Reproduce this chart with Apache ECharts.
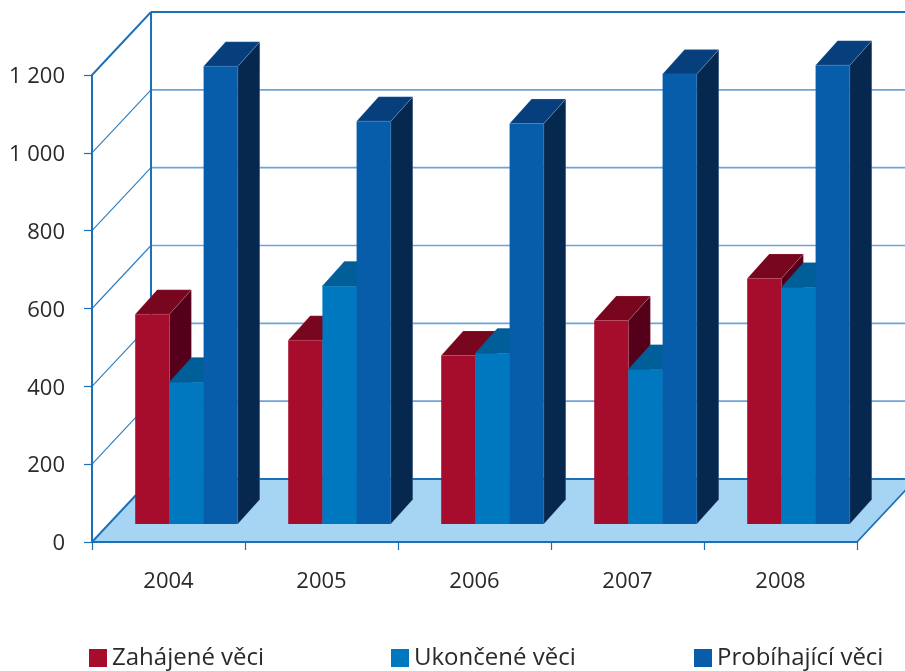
<!DOCTYPE html>
<html><head><meta charset="utf-8">
<style>html,body{margin:0;padding:0;background:#fff}#c{width:905px;height:671px}</style>
<script src="https://cdn.jsdelivr.net/npm/echarts@6/dist/echarts.min.js"></script>
</head><body><div id="c"></div>
<script>
const categories = ['2004','2005','2006','2007','2008'];
const zahajene = [539,472,433,523,631];
const ukoncene = [364,611,439,397,608];
const probihajici = [1176,1035,1029,1156,1179];
const yTicks = [0,200,400,600,800,1000,1200];
const seriesNames = ['Zahájené věci','Ukončené věci','Probíhající věci'];

const FONT = '"Open Sans", sans-serif';
const TEXT = '#2b2a29';
const AXIS = '#1b70b8';
const GRID = '#6fa3d8';
const SLANT = '#2a7cc0';
const FLOOR = '#a6d4f3';
const WALL_DX = 59, WALL_DY = 63;      // depth of the whole box
const BASE_DX = 18, BASE_DY = 18;      // how far bars stand inside the floor
const BAR_DX = 22, BAR_DY = 24.5;      // depth of each bar
const BAR_SHARE = 0.2235;              // bar width / category band

const palettes = [
  {front:'#a60c2c', top:'#78061f', side:'#54001a', edge:'rgba(255,190,200,.25)'},
  {front:'#0078c0', top:'#005e98', side:'#004d7e', edge:'rgba(0,94,152,1)'},
  {front:'#085dab', top:'#063f7c', side:'#06284f', edge:'rgba(190,215,255,.3)'}
];

function barRenderer(index){
  const p = palettes[index];
  return function(params, api){
    const band = api.size([1,0])[0];
    const w = band*BAR_SHARE;
    const c = api.coord([api.value(0), api.value(1)]);
    const l = c[0] + BASE_DX + (index-1.5)*w;
    const r = l + w;
    const t = c[1] - BASE_DY;
    const b = api.coord([api.value(0), 0])[1] - BASE_DY;
    const poly = (pts, fill, z2, stroke) => ({type:'polygon', z2, silent:true,
      shape:{points:pts}, style:{fill, stroke:stroke||fill, lineWidth:stroke?0.7:0}});
    return {type:'group', children:[
      poly([[r,t],[r+BAR_DX,t-BAR_DY],[r+BAR_DX,b-BAR_DY],[r,b]], p.side, 1, p.edge),
      poly([[l,t],[l+BAR_DX,t-BAR_DY],[r+BAR_DX,t-BAR_DY],[r,t]], p.top, 2, p.edge),
      poly([[l,t],[r,t],[r,b],[l,b]], p.front, 3)
    ]};
  };
}

function boxRenderer(params, api){
  const cs = params.coordSys;
  const y = api.coord([0, api.value(1)])[1];
  const x0 = cs.x, x1 = cs.x + cs.width;
  const children = [];
  const isZero = api.value(1) === 0;
  const isTop = api.value(1) === yTicks[yTicks.length-1];
  if(isZero){
    children.push({type:'polygon', z2:0, shape:{points:[[x0,y],[x1,y],[x1+WALL_DX,y-WALL_DY],[x0+WALL_DX,y-WALL_DY]]},
      style:{fill:FLOOR}});
    children.push({type:'line', z2:1, shape:{x1:x1,y1:y,x2:x1+WALL_DX,y2:y-WALL_DY}, style:{stroke:AXIS,lineWidth:1.8}});
    const topY = api.coord([0, yTicks[yTicks.length-1]])[1];
    children.push({type:'line', z2:2, shape:{x1:x0+WALL_DX,y1:y-WALL_DY,x2:x0+WALL_DX,y2:topY-WALL_DY}, style:{stroke:AXIS,lineWidth:2}});
  }
  children.push({type:'line', z2:1, shape:{x1:x0+WALL_DX,y1:y-WALL_DY,x2:x1+WALL_DX,y2:y-WALL_DY},
    style:{stroke:(isZero||isTop)?AXIS:GRID, lineWidth:(isZero||isTop)?2:1.6}});
  children.push({type:'line', z2:1, shape:{x1:x0,y1:y,x2:x0+WALL_DX,y2:y-WALL_DY},
    style:{stroke:(isZero||isTop)?AXIS:SLANT, lineWidth:(isZero||isTop)?1.9:1.1}});
  return {type:'group', children};
}

const chart = echarts.init(document.getElementById('c'), null, {renderer:'canvas'});
const valuesBySeries = [zahajene, ukoncene, probihajici];
const legendLefts = [89, 391, 694];

chart.setOption({
  backgroundColor:'#fff',
  animation:false,
  grid:{left:92, right:48, top:75, bottom:129, containLabel:false},
  xAxis:{type:'category', data:categories, boundaryGap:true,
    axisLine:{show:true,lineStyle:{color:AXIS,width:2}},
    axisTick:{show:true,alignWithLabel:false,length:8,lineStyle:{color:AXIS,width:1.2}},
    axisLabel:{color:TEXT,fontFamily:FONT,fontSize:22,margin:29},
    splitLine:{show:false}},
  yAxis:{type:'value', min:0, max:1200, interval:200,
    axisLine:{show:true,lineStyle:{color:AXIS,width:2}},
    axisTick:{show:true,length:8,lineStyle:{color:AXIS,width:1.2}},
    axisLabel:{color:TEXT,fontFamily:FONT,fontSize:22,margin:27,verticalAlign:'top',padding:[-9,0,0,0],
      formatter:v=>String(v).replace(/\B(?=(\d{3})+$)/g,' ')},
    splitLine:{show:false}},
  legend: seriesNames.map((n,i)=>({
    data:[{name:n,icon:'rect'}], left:legendLefts[i], top:646, itemWidth:18, itemHeight:18, itemGap:0,
    padding:0, selectedMode:false,
    textStyle:{color:TEXT,fontFamily:FONT,fontSize:24,padding:[0,0,0,0]}
  })),
  series:[
    {type:'custom', name:'box', z:-1, silent:true, renderItem:boxRenderer,
      data:yTicks.map(t=>[0,t]), encode:{x:0,y:1}},
    ...seriesNames.map((n,i)=>({
      type:'custom', name:n, z:2, silent:true, renderItem:barRenderer(i),
      itemStyle:{color:palettes[i].front},
      data:categories.map((c,j)=>[j,valuesBySeries[i][j]]), encode:{x:0,y:1}
    }))
  ]
});
</script></body></html>
